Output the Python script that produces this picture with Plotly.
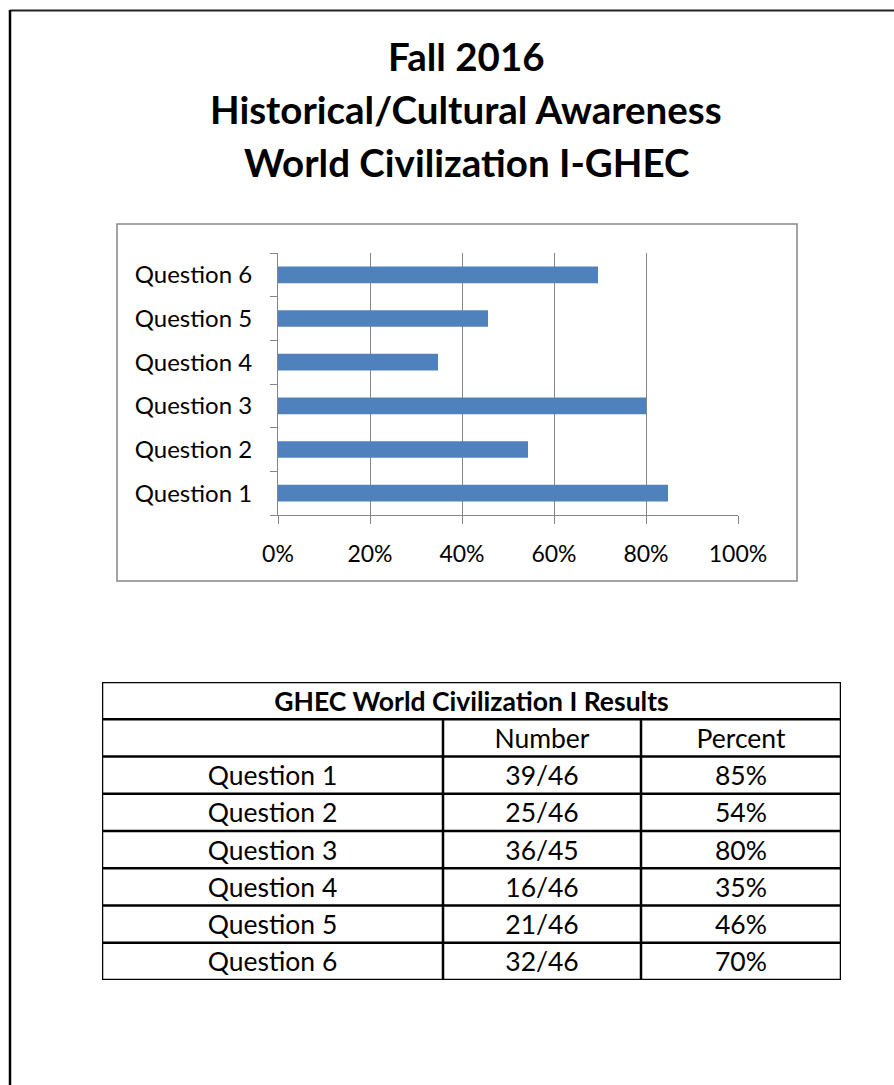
import plotly.graph_objects as go

W, H = 894, 1085

# ---- data ----
questions = ["Question 1", "Question 2", "Question 3", "Question 4", "Question 5", "Question 6"]
correct = [39, 25, 36, 16, 21, 32]
totals = [46, 46, 45, 46, 46, 46]
percent_labels = ["85%", "54%", "80%", "35%", "46%", "70%"]
x_ticks = [0, 0.2, 0.4, 0.6, 0.8, 1.0]
title_lines = ["Fall 2016", "Historical/Cultural Awareness", "World Civilization I-GHEC"]
table_title = "GHEC World Civilization I Results"
table_header = ["", "Number", "Percent"]

values = [c / t for c, t in zip(correct, totals)]
number_labels = [f"{c}/{t}" for c, t in zip(correct, totals)]

FONT = "Lato"
BAR = "#4F81BD"
GRID = "#868686"


def px(x):
    return x / W


def py(y):
    return 1 - y / H


fig = go.Figure()

fig.add_trace(go.Bar(
    y=questions, x=values, orientation="h",
    marker=dict(color=BAR, line=dict(width=0)),
    xaxis="x", yaxis="y", hoverinfo="skip",
))

# ---- table (drawn on its own axes) ----
col_edges = [102, 443, 641, 841]
col_centers = [(col_edges[i] + col_edges[i + 1]) / 2 for i in range(3)]
n_rows = 2 + len(questions)
TXT_DY = 0.09

tx, ty, tt = [], [], []
for j, h in enumerate(table_header):
    if h:
        tx.append(col_centers[j]); ty.append(1.5 + TXT_DY); tt.append(h)
for i, q in enumerate(questions):
    row = 2.5 + i + TXT_DY
    for j, v in enumerate([q, number_labels[i], percent_labels[i]]):
        tx.append(col_centers[j]); ty.append(row); tt.append(v)

fig.add_trace(go.Scatter(
    x=tx, y=ty, text=tt, mode="text", textposition="middle center",
    textfont=dict(family=FONT, size=26.5, color="black"),
    xaxis="x2", yaxis="y2", hoverinfo="skip",
))
fig.add_trace(go.Scatter(
    x=[(col_edges[0] + col_edges[-1]) / 2], y=[0.5 + TXT_DY], text=[f"<b>{table_title}</b>"],
    mode="text", textposition="middle center",
    textfont=dict(family=FONT, size=26.5, color="black"),
    xaxis="x2", yaxis="y2", hoverinfo="skip",
))

shapes = []
TL = dict(color="black", width=2.5)
for r in range(n_rows + 1):
    shapes.append(dict(type="line", xref="x2", yref="y2", x0=col_edges[0], x1=col_edges[-1],
                       y0=r, y1=r, line=TL))
for k, xe in enumerate(col_edges):
    y0 = 0 if k in (0, len(col_edges) - 1) else 1
    shapes.append(dict(type="line", xref="x2", yref="y2", x0=xe, x1=xe, y0=y0, y1=n_rows, line=TL))

# chart frame
shapes.append(dict(type="rect", xref="paper", yref="paper", x0=px(117), x1=px(797),
                   y0=py(581), y1=py(224), line=dict(color=GRID, width=1.5)))
# page border
shapes.append(dict(type="line", xref="paper", yref="paper", x0=px(10), x1=1, y0=py(10.5), y1=py(10.5),
                   line=dict(color="#222222", width=2)))
shapes.append(dict(type="line", xref="paper", yref="paper", x0=px(10), x1=px(10), y0=py(10), y1=0,
                   line=dict(color="black", width=2.5)))

annotations = []
for i, line in enumerate(title_lines):
    annotations.append(dict(text=f"<b>{line}</b>", xref="paper", yref="paper", x=px(466),
                            y=py(56 + 53 * i), xanchor="center", yanchor="middle", showarrow=False,
                            font=dict(family=FONT, size=38.5, color="black")))

fig.update_layout(
    template="none",
    width=W, height=H, margin=dict(l=0, r=0, t=0, b=0, pad=0, autoexpand=False),
    paper_bgcolor="white", plot_bgcolor="rgba(0,0,0,0)",
    showlegend=False, bargap=0.62,
    shapes=shapes, annotations=annotations,
    xaxis=dict(domain=[px(278), px(738)], range=[0, 1], tickvals=x_ticks, tickformat=".0%",
               showgrid=True, gridcolor=GRID, gridwidth=1, zeroline=False,
               showline=True, linecolor=GRID, linewidth=1.2, automargin=False,
               ticks="outside", ticklen=8, tickcolor=GRID, tickwidth=1.2,
               ticklabelstandoff=10,
               tickfont=dict(family=FONT, size=23, color="black"), anchor="y"),
    yaxis=dict(domain=[py(515), py(253)], type="category", categoryorder="array",
               categoryarray=questions, range=[-0.5, len(questions) - 0.5],
               showgrid=False, zeroline=False, showline=True, linecolor=GRID, linewidth=1.2,
               automargin=False,
               ticks="outside", tickson="boundaries", ticklen=7, tickcolor=GRID, tickwidth=1.2,
               ticklabelstandoff=20,
               tickfont=dict(family=FONT, size=24, color="black"), anchor="x"),
    xaxis2=dict(domain=[px(col_edges[0]), px(col_edges[-1])], range=[col_edges[0], col_edges[-1]],
                visible=False, anchor="y2", automargin=False),
    yaxis2=dict(domain=[py(980), py(682)], range=[n_rows, 0], visible=False, anchor="x2",
                automargin=False),
)

fig.write_html(
    "out.html",
    config={"displayModeBar": False},
    post_script="document.body.style.margin='0';document.body.style.overflow='hidden';",
)
